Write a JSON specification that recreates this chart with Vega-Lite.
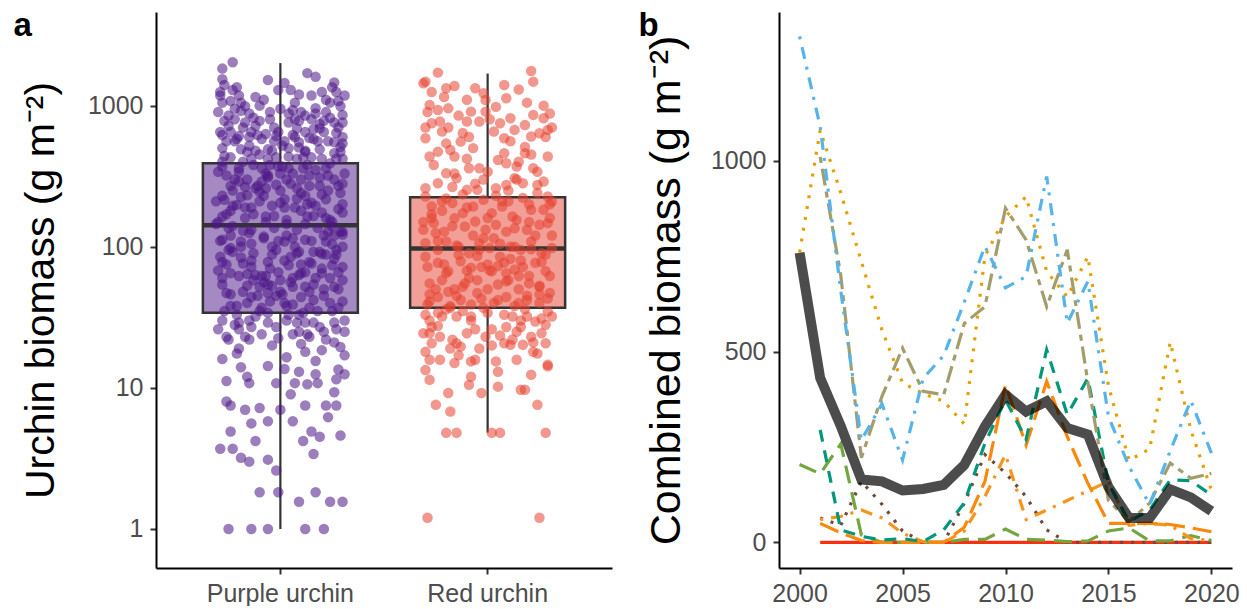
{
  "$schema": "https://vega.github.io/schema/vega-lite/v6.json",
  "padding": {"left": 13, "top": 10, "right": 0, "bottom": 0},
  "spacing": 26,
  "resolve": {"scale": {"color": "independent", "strokeDash": "independent", "fill": "independent"}},
  "config": {
    "view": {"stroke": null},
    "font": "Liberation Sans",
    "axis": {"domainColor": "#000000", "domainWidth": 2, "tickColor": "#333333", "tickWidth": 2, "tickSize": 6, "labelColor": "#4D4D4D", "labelFontSize": 25, "labelPadding": 7, "titleFontWeight": "normal", "titleColor": "#000000", "grid": false},
    "title": {"fontSize": 33, "fontWeight": "bold", "anchor": "start", "frame": "bounds", "offset": 0, "baseline": "alphabetic", "color": "#000000"}
  },
  "datasets": {
    "box": [
      {"g": "P", "lo": 1.0, "q1": 34.1, "med": 142, "q3": 390, "hi": 2003},
      {"g": "R", "lo": 4.82, "q1": 37.0, "med": 97.3, "q3": 224, "hi": 1687}
    ],
    "pts": [
      {"g":"P","j":-0.23,"v":2030},{"g":"P","j":-0.28,"v":1830},{"g":"P","j":-0.28,"v":1540},{"g":"P","j":-0.06,"v":1520},{"g":"P","j":0.17,"v":1600},{"g":"P","j":0.26,"v":1460},{"g":"P","j":0.25,"v":1350},{"g":"P","j":-0.01,"v":1290},{"g":"P","j":0.05,"v":1290},{"g":"P","j":-0.23,"v":1290},
      {"g":"P","j":-0.2,"v":1180},{"g":"P","j":-0.29,"v":1180},{"g":"P","j":0.15,"v":1180},{"g":"P","j":0.31,"v":1180},{"g":"P","j":0.28,"v":1080},{"g":"P","j":-0.28,"v":1050},{"g":"P","j":-0.24,"v":1080},{"g":"P","j":-0.19,"v":1050},{"g":"P","j":-0.15,"v":880},{"g":"P","j":-0.05,"v":900},
      {"g":"P","j":0,"v":950},{"g":"P","j":0.06,"v":930},{"g":"P","j":0.1,"v":900},{"g":"P","j":0.17,"v":960},{"g":"P","j":0.22,"v":900},{"g":"P","j":0.3,"v":860},{"g":"P","j":-0.27,"v":780},{"g":"P","j":-0.22,"v":800},{"g":"P","j":-0.17,"v":760},{"g":"P","j":-0.1,"v":780},
      {"g":"P","j":-0.05,"v":800},{"g":"P","j":0.04,"v":760},{"g":"P","j":0.09,"v":780},{"g":"P","j":0.15,"v":800},{"g":"P","j":0.19,"v":740},{"g":"P","j":0.26,"v":760},{"g":"P","j":0.3,"v":760},{"g":"P","j":-0.29,"v":650},{"g":"P","j":-0.24,"v":650},{"g":"P","j":-0.14,"v":650},
      {"g":"P","j":-0.07,"v":630},{"g":"P","j":-0.01,"v":650},{"g":"P","j":0.06,"v":620},{"g":"P","j":0.12,"v":650},{"g":"P","j":0.21,"v":650},{"g":"P","j":0.3,"v":600},{"g":"P","j":-0.21,"v":580},{"g":"P","j":-0.15,"v":600},{"g":"P","j":-0.09,"v":580},{"g":"P","j":0.02,"v":560},
      {"g":"P","j":0.09,"v":550},{"g":"P","j":0.16,"v":580},{"g":"P","j":0.23,"v":560},{"g":"P","j":0.29,"v":510},{"g":"P","j":-0.28,"v":500},{"g":"P","j":-0.19,"v":490},{"g":"P","j":-0.12,"v":480},{"g":"P","j":-0.06,"v":490},{"g":"P","j":0.04,"v":500},{"g":"P","j":0.12,"v":480},
      {"g":"P","j":0.19,"v":490},{"g":"P","j":0.26,"v":460},{"g":"P","j":-0.24,"v":430},{"g":"P","j":-0.14,"v":420},{"g":"P","j":-0.02,"v":430},{"g":"P","j":0.08,"v":420},{"g":"P","j":0.15,"v":430},{"g":"P","j":0.3,"v":420},{"g":"P","j":-0.28,"v":370},{"g":"P","j":-0.2,"v":360},
      {"g":"P","j":-0.09,"v":360},{"g":"P","j":0.01,"v":370},{"g":"P","j":0.11,"v":360},{"g":"P","j":0.22,"v":360},{"g":"P","j":-0.26,"v":320},{"g":"P","j":-0.16,"v":300},{"g":"P","j":-0.06,"v":310},{"g":"P","j":0.03,"v":300},{"g":"P","j":0.14,"v":320},{"g":"P","j":0.26,"v":300},
      {"g":"P","j":0.3,"v":280},{"g":"P","j":-0.24,"v":270},{"g":"P","j":-0.12,"v":260},{"g":"P","j":-0.02,"v":275},{"g":"P","j":0.08,"v":260},{"g":"P","j":0.19,"v":270},{"g":"P","j":0.29,"v":240},{"g":"P","j":-0.28,"v":230},{"g":"P","j":-0.19,"v":225},{"g":"P","j":-0.08,"v":230},
      {"g":"P","j":0.02,"v":217},{"g":"P","j":0.12,"v":230},{"g":"P","j":0.22,"v":217},{"g":"P","j":-0.23,"v":195},{"g":"P","j":-0.14,"v":190},{"g":"P","j":-0.04,"v":195},{"g":"P","j":0.07,"v":190},{"g":"P","j":0.17,"v":195},{"g":"P","j":0.28,"v":185},{"g":"P","j":-0.28,"v":164},
      {"g":"P","j":-0.17,"v":160},{"g":"P","j":-0.07,"v":164},{"g":"P","j":0.03,"v":155},{"g":"P","j":0.13,"v":164},{"g":"P","j":0.24,"v":155},{"g":"P","j":-0.25,"v":136},{"g":"P","j":-0.14,"v":132},{"g":"P","j":-0.03,"v":136},{"g":"P","j":0.08,"v":132},{"g":"P","j":0.18,"v":136},
      {"g":"P","j":0.29,"v":128},{"g":"P","j":-0.28,"v":112},{"g":"P","j":-0.19,"v":109},{"g":"P","j":-0.08,"v":115},{"g":"P","j":0.02,"v":109},{"g":"P","j":0.12,"v":112},{"g":"P","j":0.22,"v":109},{"g":"P","j":0.3,"v":100},{"g":"P","j":-0.23,"v":92},{"g":"P","j":-0.13,"v":90},
      {"g":"P","j":-0.02,"v":95},{"g":"P","j":0.08,"v":90},{"g":"P","j":0.19,"v":92},{"g":"P","j":0.27,"v":88},{"g":"P","j":-0.28,"v":78},{"g":"P","j":-0.18,"v":76},{"g":"P","j":-0.06,"v":78},{"g":"P","j":0.04,"v":74},{"g":"P","j":0.14,"v":78},{"g":"P","j":0.25,"v":74},
      {"g":"P","j":0.3,"v":72},{"g":"P","j":-0.24,"v":65},{"g":"P","j":-0.12,"v":63},{"g":"P","j":-0.01,"v":66},{"g":"P","j":0.09,"v":63},{"g":"P","j":0.2,"v":65},{"g":"P","j":-0.28,"v":54},{"g":"P","j":-0.16,"v":53},{"g":"P","j":-0.06,"v":54},{"g":"P","j":0.06,"v":52},
      {"g":"P","j":0.16,"v":54},{"g":"P","j":0.26,"v":52},{"g":"P","j":-0.24,"v":46},{"g":"P","j":-0.14,"v":44},{"g":"P","j":-0.02,"v":45},{"g":"P","j":0.1,"v":44},{"g":"P","j":0.21,"v":45},{"g":"P","j":0.3,"v":41},{"g":"P","j":-0.21,"v":38},{"g":"P","j":-0.09,"v":37},
      {"g":"P","j":0.03,"v":38},{"g":"P","j":0.14,"v":37},{"g":"P","j":0.25,"v":35},{"g":"P","j":-0.28,"v":30},{"g":"P","j":-0.2,"v":29},{"g":"P","j":-0.14,"v":27},{"g":"P","j":-0.06,"v":29},{"g":"P","j":0.03,"v":30},{"g":"P","j":0.12,"v":29},{"g":"P","j":0.19,"v":27},
      {"g":"P","j":0.26,"v":29},{"g":"P","j":0.31,"v":30},{"g":"P","j":-0.26,"v":23},{"g":"P","j":-0.15,"v":22},{"g":"P","j":-0.09,"v":24},{"g":"P","j":-0.01,"v":22.5},{"g":"P","j":0.06,"v":24},{"g":"P","j":0.14,"v":23},{"g":"P","j":0.22,"v":22},{"g":"P","j":0.29,"v":19.5},
      {"g":"P","j":-0.28,"v":16},{"g":"P","j":-0.21,"v":17.5},{"g":"P","j":0.03,"v":16.5},{"g":"P","j":0.12,"v":18},{"g":"P","j":0.2,"v":18.5},{"g":"P","j":0.31,"v":17},{"g":"P","j":-0.19,"v":14},{"g":"P","j":-0.06,"v":14.3},{"g":"P","j":0.02,"v":13.6},{"g":"P","j":0.09,"v":13},
      {"g":"P","j":0.17,"v":12.5},{"g":"P","j":0.27,"v":11.5},{"g":"P","j":-0.26,"v":11.2},{"g":"P","j":-0.15,"v":10.8},{"g":"P","j":-0.02,"v":10.8},{"g":"P","j":0.07,"v":10.8},{"g":"P","j":0.13,"v":10.6},{"g":"P","j":0.18,"v":10.8},{"g":"P","j":0.31,"v":12.5},{"g":"P","j":0.26,"v":9.3},
      {"g":"P","j":-0.24,"v":7.5},{"g":"P","j":-0.17,"v":7},{"g":"P","j":-0.1,"v":7.2},{"g":"P","j":0,"v":7},{"g":"P","j":0.06,"v":5.8},{"g":"P","j":0.12,"v":7.5},{"g":"P","j":0.22,"v":7.5},{"g":"P","j":0.27,"v":7.5},{"g":"P","j":-0.06,"v":5.8},{"g":"P","j":-0.14,"v":5.6},
      {"g":"P","j":-0.24,"v":4.9},{"g":"P","j":0.15,"v":4.9},{"g":"P","j":0.19,"v":4.5},{"g":"P","j":0.29,"v":4.6},{"g":"P","j":0.11,"v":4.2},{"g":"P","j":-0.29,"v":3.7},{"g":"P","j":-0.23,"v":3.7},{"g":"P","j":-0.19,"v":3.2},{"g":"P","j":-0.15,"v":3},{"g":"P","j":-0.06,"v":3.1},
      {"g":"P","j":-0.1,"v":1.82},{"g":"P","j":-0.01,"v":1.82},{"g":"P","j":0.09,"v":1.56},{"g":"P","j":0.17,"v":1.82},{"g":"P","j":0.24,"v":1.56},{"g":"P","j":0.3,"v":1.56},{"g":"P","j":-0.25,"v":1},{"g":"P","j":-0.14,"v":1},{"g":"P","j":-0.06,"v":1},{"g":"P","j":0.12,"v":1},{"g":"P","j":0.21,"v":1},
      {"g":"P","j":-0.3,"v":150},{"g":"P","j":-0.2,"v":340},{"g":"P","j":-0.1,"v":210},{"g":"P","j":0,"v":250},{"g":"P","j":0.1,"v":180},{"g":"P","j":0.2,"v":420},{"g":"P","j":0.3,"v":200},{"g":"P","j":-0.25,"v":95},{"g":"P","j":-0.15,"v":125},{"g":"P","j":-0.05,"v":70},
      {"g":"P","j":0.05,"v":85},{"g":"P","j":0.15,"v":110},{"g":"P","j":0.25,"v":140},{"g":"P","j":-0.28,"v":60},{"g":"P","j":-0.18,"v":48},{"g":"P","j":-0.08,"v":56},{"g":"P","j":0.02,"v":40},{"g":"P","j":0.12,"v":66},{"g":"P","j":0.22,"v":88},{"g":"P","j":0.28,"v":50},
      {"g":"P","j":-0.22,"v":560},{"g":"P","j":-0.12,"v":720},{"g":"P","j":-0.02,"v":610},{"g":"P","j":0.08,"v":690},{"g":"P","j":0.18,"v":560},{"g":"P","j":0.28,"v":700},{"g":"P","j":-0.27,"v":440},{"g":"P","j":-0.17,"v":265},{"g":"P","j":-0.07,"v":330},{"g":"P","j":0.03,"v":145},
      {"g":"P","j":0.13,"v":380},{"g":"P","j":0.23,"v":250},{"g":"P","j":-0.24,"v":180},{"g":"P","j":-0.14,"v":80},{"g":"P","j":-0.04,"v":100},{"g":"P","j":0.06,"v":60},{"g":"P","j":0.16,"v":42},{"g":"P","j":0.26,"v":120},{"g":"P","j":0.31,"v":330},{"g":"P","j":-0.31,"v":210},
      {"g":"P","j":-0.1,"v":1000},{"g":"P","j":0.12,"v":850},{"g":"P","j":-0.19,"v":920},{"g":"P","j":0.2,"v":1250},{"g":"P","j":0.09,"v":33},{"g":"P","j":-0.21,"v":33},{"g":"P","j":0.27,"v":26},{"g":"P","j":-0.04,"v":20},{"g":"P","j":0.17,"v":15.5},{"g":"P","j":-0.16,"v":12},
      {"g":"P","j":-0.3,"v":900},{"g":"P","j":-0.25,"v":720},{"g":"P","j":-0.2,"v":610},{"g":"P","j":-0.15,"v":520},{"g":"P","j":-0.1,"v":450},{"g":"P","j":-0.05,"v":380},{"g":"P","j":0,"v":330},{"g":"P","j":0.05,"v":280},{"g":"P","j":0.1,"v":240},{"g":"P","j":0.15,"v":205},
      {"g":"P","j":0.2,"v":175},{"g":"P","j":0.25,"v":150},{"g":"P","j":0.3,"v":128},{"g":"P","j":-0.29,"v":110},{"g":"P","j":-0.24,"v":98},{"g":"P","j":-0.19,"v":84},{"g":"P","j":-0.14,"v":72},{"g":"P","j":-0.09,"v":62},{"g":"P","j":-0.04,"v":53},{"g":"P","j":0.01,"v":46},
      {"g":"P","j":0.06,"v":39},{"g":"P","j":0.11,"v":34},{"g":"P","j":0.16,"v":29},{"g":"P","j":0.21,"v":25},{"g":"P","j":0.26,"v":21},{"g":"P","j":0.29,"v":990},{"g":"P","j":0.24,"v":820},{"g":"P","j":0.19,"v":690},{"g":"P","j":0.14,"v":590},{"g":"P","j":0.09,"v":505},
      {"g":"P","j":0.04,"v":435},{"g":"P","j":-0.01,"v":370},{"g":"P","j":-0.06,"v":320},{"g":"P","j":-0.11,"v":270},{"g":"P","j":-0.16,"v":232},{"g":"P","j":-0.21,"v":198},{"g":"P","j":-0.26,"v":170},{"g":"P","j":-0.31,"v":145},{"g":"P","j":0.3,"v":122},{"g":"P","j":0.25,"v":104},
      {"g":"P","j":0.2,"v":89},{"g":"P","j":0.15,"v":76},{"g":"P","j":0.1,"v":65},{"g":"P","j":0.05,"v":56},{"g":"P","j":0,"v":48},{"g":"P","j":-0.05,"v":41},{"g":"P","j":-0.1,"v":35},{"g":"P","j":-0.15,"v":30},{"g":"P","j":-0.2,"v":26},{"g":"P","j":-0.25,"v":22},
      {"g":"P","j":-0.27,"v":1400},{"g":"P","j":0.13,"v":1700},{"g":"P","j":0.22,"v":1100},{"g":"P","j":-0.12,"v":1150},{"g":"P","j":0.02,"v":1450},{"g":"P","j":0.27,"v":1250},{"g":"P","j":-0.17,"v":990},{"g":"P","j":0.07,"v":1050},
      {"g":"P","j":-0.22,"v":300},{"g":"P","j":-0.07,"v":260},{"g":"P","j":0.08,"v":220},{"g":"P","j":0.23,"v":320},{"g":"P","j":-0.28,"v":400},{"g":"P","j":0.17,"v":350},{"g":"P","j":-0.13,"v":380},{"g":"P","j":0.02,"v":190},{"g":"P","j":0.27,"v":420},{"g":"P","j":-0.03,"v":560},
      {"g":"P","j":0.12,"v":470},{"g":"P","j":-0.18,"v":700},{"g":"P","j":0.07,"v":800},{"g":"P","j":0.3,"v":540},{"g":"P","j":-0.23,"v":140},{"g":"P","j":-0.08,"v":118},{"g":"P","j":0.07,"v":100},{"g":"P","j":0.22,"v":160},{"g":"P","j":-0.18,"v":130},{"g":"P","j":0.12,"v":145},
      {"g":"P","j":-0.03,"v":165},{"g":"P","j":0.27,"v":95},{"g":"P","j":-0.29,"v":85},{"g":"P","j":0.02,"v":80},{"g":"P","j":-0.13,"v":58},{"g":"P","j":0.17,"v":60},{"g":"P","j":0.28,"v":66},{"g":"P","j":-0.24,"v":38},{"g":"P","j":0.09,"v":25},{"g":"P","j":-0.06,"v":34},
      {"g":"P","j":0.21,"v":50},{"g":"P","j":-0.11,"v":45},{"g":"P","j":-0.26,"v":8},{"g":"P","j":0.05,"v":9},{"g":"P","j":0.23,"v":6.2},{"g":"P","j":-0.12,"v":4.2},{"g":"P","j":0.16,"v":3.4},{"g":"P","j":-0.02,"v":2.6},{"g":"P","j":0.28,"v":13.5},{"g":"P","j":-0.2,"v":19},{"g":"P","j":0.1,"v":20.5},{"g":"P","j":-0.3,"v":26},
      {"g":"P","j":-0.29,"v":1250},{"g":"P","j":-0.22,"v":950},{"g":"P","j":-0.13,"v":820},{"g":"P","j":-0.03,"v":700},{"g":"P","j":0.07,"v":600},{"g":"P","j":0.17,"v":880},{"g":"P","j":0.27,"v":640},{"g":"P","j":-0.26,"v":560},{"g":"P","j":-0.16,"v":470},{"g":"P","j":-0.06,"v":420},
      {"g":"P","j":0.04,"v":360},{"g":"P","j":0.14,"v":270},{"g":"P","j":0.24,"v":390},{"g":"P","j":-0.3,"v":340},{"g":"P","j":-0.2,"v":290},{"g":"P","j":-0.1,"v":245},{"g":"P","j":0,"v":205},{"g":"P","j":0.1,"v":300},{"g":"P","j":0.2,"v":235},{"g":"P","j":0.3,"v":175},
      {"g":"P","j":-0.27,"v":215},{"g":"P","j":-0.17,"v":190},{"g":"P","j":-0.07,"v":150},{"g":"P","j":0.03,"v":120},{"g":"P","j":0.13,"v":200},{"g":"P","j":0.23,"v":128},{"g":"P","j":-0.24,"v":120},{"g":"P","j":-0.14,"v":105},{"g":"P","j":-0.04,"v":88},{"g":"P","j":0.06,"v":115},
      {"g":"P","j":0.16,"v":92},{"g":"P","j":0.26,"v":82},{"g":"P","j":-0.3,"v":68},{"g":"P","j":-0.2,"v":62},{"g":"P","j":-0.1,"v":52},{"g":"P","j":0,"v":58},{"g":"P","j":0.1,"v":75},{"g":"P","j":0.2,"v":70},{"g":"P","j":0.3,"v":58},{"g":"P","j":-0.26,"v":47},
      {"g":"P","j":-0.16,"v":40},{"g":"P","j":-0.06,"v":47},{"g":"P","j":0.04,"v":33},{"g":"P","j":0.14,"v":48},{"g":"P","j":0.24,"v":40},{"g":"P","j":-0.22,"v":28},{"g":"P","j":-0.12,"v":32},{"g":"P","j":-0.02,"v":27},{"g":"P","j":0.08,"v":29},{"g":"P","j":0.18,"v":35},
      {"g":"P","j":0.28,"v":37},{"g":"P","j":-0.27,"v":35},{"g":"P","j":0.31,"v":25},{"g":"P","j":-0.17,"v":23},{"g":"P","j":0.13,"v":24},{"g":"P","j":-0.21,"v":1350},{"g":"P","j":0.09,"v":1200},{"g":"P","j":-0.08,"v":1100},{"g":"P","j":0.24,"v":1050},{"g":"P","j":0.04,"v":880},
      {"g":"P","j":-0.25,"v":850},{"g":"P","j":0.21,"v":780},{"g":"P","j":-0.11,"v":620},{"g":"P","j":0.16,"v":680},{"g":"P","j":0.01,"v":520},{"g":"P","j":-0.28,"v":620},{"g":"P","j":0.26,"v":550},{"g":"P","j":-0.18,"v":400},{"g":"P","j":0.11,"v":430},{"g":"P","j":-0.04,"v":480},
      {"g":"P","j":0.29,"v":470},{"g":"P","j":-0.23,"v":250},{"g":"P","j":0.06,"v":330},{"g":"P","j":-0.09,"v":290},{"g":"P","j":0.19,"v":310},{"g":"P","j":0.28,"v":270},{"g":"P","j":-0.13,"v":170},{"g":"P","j":0.16,"v":165},{"g":"P","j":-0.01,"v":110},{"g":"P","j":0.21,"v":120},
      {"g":"P","j":-0.19,"v":100},{"g":"P","j":0.09,"v":92},{"g":"P","j":-0.26,"v":75},{"g":"P","j":0.24,"v":60},{"g":"P","j":-0.07,"v":62},{"g":"P","j":0.12,"v":52},{"g":"P","j":-0.16,"v":64},
      {"g":"R","j":-0.24,"v":1714},{"g":"R","j":0.21,"v":1762},{"g":"R","j":0.22,"v":1479},{"g":"R","j":-0.3,"v":1479},{"g":"R","j":-0.31,"v":1439},{"g":"R","j":-0.2,"v":1327},{"g":"R","j":-0.16,"v":1378},{"g":"R","j":-0.06,"v":1327},{"g":"R","j":0.08,"v":1402},{"g":"R","j":0.09,"v":1128},
      {"g":"R","j":-0.02,"v":1224},{"g":"R","j":-0.01,"v":1097},{"g":"R","j":-0.28,"v":1011},{"g":"R","j":-0.24,"v":932},{"g":"R","j":-0.19,"v":957},{"g":"R","j":-0.3,"v":587},{"g":"R","j":-0.27,"v":750},{"g":"R","j":-0.23,"v":771},{"g":"R","j":-0.22,"v":655},{"g":"R","j":-0.1,"v":771},
      {"g":"R","j":-0.08,"v":907},{"g":"R","j":-0.04,"v":771},{"g":"R","j":-0.01,"v":907},{"g":"R","j":0.11,"v":814},{"g":"R","j":0.13,"v":673},{"g":"R","j":0.18,"v":730},{"g":"R","j":0.22,"v":860},{"g":"R","j":0.27,"v":814},{"g":"R","j":0.29,"v":673},{"g":"R","j":0.03,"v":655},
      {"g":"R","j":0.08,"v":587},{"g":"R","j":0.21,"v":604},{"g":"R","j":0.25,"v":637},{"g":"R","j":-0.28,"v":436},{"g":"R","j":-0.24,"v":472},{"g":"R","j":-0.18,"v":485},{"g":"R","j":-0.16,"v":436},{"g":"R","j":-0.13,"v":556},{"g":"R","j":-0.09,"v":360},{"g":"R","j":-0.04,"v":360},
      {"g":"R","j":0.05,"v":412},{"g":"R","j":0.09,"v":391},{"g":"R","j":0.14,"v":370},{"g":"R","j":0.18,"v":460},{"g":"R","j":0.22,"v":360},{"g":"R","j":0.29,"v":436},{"g":"R","j":-0.24,"v":282},{"g":"R","j":-0.2,"v":332},{"g":"R","j":-0.15,"v":306},{"g":"R","j":-0.1,"v":253},
      {"g":"R","j":-0.05,"v":253},{"g":"R","j":0.04,"v":260},{"g":"R","j":0.09,"v":274},{"g":"R","j":0.13,"v":306},{"g":"R","j":0.17,"v":282},{"g":"R","j":0.24,"v":274},{"g":"R","j":0.27,"v":290},{"g":"R","j":0.29,"v":227},{"g":"R","j":-0.3,"v":227},{"g":"R","j":-0.27,"v":193},
      {"g":"R","j":-0.22,"v":209},{"g":"R","j":-0.17,"v":204},{"g":"R","j":-0.12,"v":173},{"g":"R","j":-0.07,"v":193},{"g":"R","j":-0.02,"v":215},{"g":"R","j":0.02,"v":173},{"g":"R","j":0.07,"v":193},{"g":"R","j":0.12,"v":164},{"g":"R","j":0.17,"v":222},{"g":"R","j":0.21,"v":183},
      {"g":"R","j":0.27,"v":183},{"g":"R","j":0.31,"v":209},{"g":"R","j":-0.31,"v":132},{"g":"R","j":-0.26,"v":147},{"g":"R","j":-0.21,"v":128},{"g":"R","j":-0.16,"v":159},{"g":"R","j":-0.11,"v":139},{"g":"R","j":-0.06,"v":151},{"g":"R","j":-0.01,"v":132},{"g":"R","j":0.04,"v":143},
      {"g":"R","j":0.09,"v":128},{"g":"R","j":0.14,"v":155},{"g":"R","j":0.19,"v":132},{"g":"R","j":0.25,"v":143},{"g":"R","j":0.29,"v":147},{"g":"R","j":-0.3,"v":106},{"g":"R","j":-0.24,"v":95},{"g":"R","j":-0.2,"v":109},{"g":"R","j":-0.14,"v":100},{"g":"R","j":-0.09,"v":90},
      {"g":"R","j":-0.04,"v":106},{"g":"R","j":0.01,"v":98},{"g":"R","j":0.06,"v":85},{"g":"R","j":0.11,"v":100},{"g":"R","j":0.16,"v":95},{"g":"R","j":0.21,"v":109},{"g":"R","j":0.26,"v":90},{"g":"R","j":0.31,"v":98},{"g":"R","j":-0.29,"v":72},{"g":"R","j":-0.24,"v":77},
      {"g":"R","j":-0.19,"v":67},{"g":"R","j":-0.13,"v":79},{"g":"R","j":-0.08,"v":71},{"g":"R","j":-0.03,"v":72},{"g":"R","j":0.02,"v":67},{"g":"R","j":0.08,"v":77},{"g":"R","j":0.13,"v":69},{"g":"R","j":0.17,"v":72},{"g":"R","j":0.23,"v":77},{"g":"R","j":0.28,"v":67},
      {"g":"R","j":-0.28,"v":55},{"g":"R","j":-0.22,"v":58},{"g":"R","j":-0.16,"v":50},{"g":"R","j":-0.11,"v":55},{"g":"R","j":-0.05,"v":58},{"g":"R","j":0,"v":50},{"g":"R","j":0.05,"v":54},{"g":"R","j":0.09,"v":57},{"g":"R","j":0.15,"v":50},{"g":"R","j":0.2,"v":55},
      {"g":"R","j":0.25,"v":52},{"g":"R","j":0.3,"v":47},{"g":"R","j":-0.28,"v":41},{"g":"R","j":-0.24,"v":44},{"g":"R","j":-0.18,"v":38},{"g":"R","j":-0.13,"v":42},{"g":"R","j":-0.08,"v":39},{"g":"R","j":-0.03,"v":43},{"g":"R","j":0.03,"v":40},{"g":"R","j":0.09,"v":44},
      {"g":"R","j":0.13,"v":38},{"g":"R","j":0.19,"v":42},{"g":"R","j":0.25,"v":40},{"g":"R","j":0.29,"v":43},{"g":"R","j":-0.3,"v":33},{"g":"R","j":-0.28,"v":30},{"g":"R","j":-0.24,"v":34},{"g":"R","j":-0.2,"v":36},{"g":"R","j":-0.15,"v":32},{"g":"R","j":-0.08,"v":32},
      {"g":"R","j":0,"v":34},{"g":"R","j":0.09,"v":27},{"g":"R","j":0.12,"v":32},{"g":"R","j":0.16,"v":30},{"g":"R","j":0.19,"v":32},{"g":"R","j":0.23,"v":29.5},{"g":"R","j":0.29,"v":34.8},{"g":"R","j":0.31,"v":32},{"g":"R","j":-0.31,"v":24.4},{"g":"R","j":-0.28,"v":24.4},
      {"g":"R","j":-0.27,"v":20.7},{"g":"R","j":-0.23,"v":23},{"g":"R","j":-0.17,"v":21.9},{"g":"R","j":-0.15,"v":20.7},{"g":"R","j":-0.13,"v":19.6},{"g":"R","j":-0.1,"v":24.4},{"g":"R","j":-0.08,"v":15.4},{"g":"R","j":-0.06,"v":15.8},{"g":"R","j":-0.01,"v":23},{"g":"R","j":0.04,"v":15.4},
      {"g":"R","j":0.08,"v":20.7},{"g":"R","j":0.11,"v":20.2},{"g":"R","j":0.14,"v":15.8},{"g":"R","j":0.17,"v":20.2},{"g":"R","j":0.21,"v":23},{"g":"R","j":0.26,"v":24.4},{"g":"R","j":0.28,"v":20.7},{"g":"R","j":0.29,"v":14.6},{"g":"R","j":-0.28,"v":15.8},{"g":"R","j":-0.23,"v":15.8},
      {"g":"R","j":-0.16,"v":15},{"g":"R","j":-0.3,"v":13.4},{"g":"R","j":-0.28,"v":11.4},{"g":"R","j":-0.19,"v":9.2},{"g":"R","j":-0.25,"v":7.6},{"g":"R","j":-0.18,"v":6.8},{"g":"R","j":-0.09,"v":10.5},{"g":"R","j":-0.03,"v":9.2},{"g":"R","j":0.05,"v":10.2},{"g":"R","j":0.16,"v":9.7},
      {"g":"R","j":0.18,"v":9.7},{"g":"R","j":0.21,"v":12.4},{"g":"R","j":0.24,"v":7.6},{"g":"R","j":0.29,"v":14.2},{"g":"R","j":-0.2,"v":4.8},{"g":"R","j":-0.15,"v":4.8},{"g":"R","j":0.02,"v":4.8},{"g":"R","j":0.06,"v":4.8},{"g":"R","j":0.28,"v":4.8},{"g":"R","j":-0.29,"v":1.2},{"g":"R","j":0.25,"v":1.2},
      {"g":"R","j":-0.3,"v":700},{"g":"R","j":-0.2,"v":540},{"g":"R","j":-0.1,"v":420},{"g":"R","j":0,"v":340},{"g":"R","j":0.1,"v":250},{"g":"R","j":0.2,"v":200},{"g":"R","j":0.3,"v":160},{"g":"R","j":-0.25,"v":125},{"g":"R","j":-0.15,"v":102},{"g":"R","j":-0.05,"v":86},
      {"g":"R","j":0.05,"v":73},{"g":"R","j":0.15,"v":62},{"g":"R","j":0.25,"v":53},{"g":"R","j":-0.28,"v":46},{"g":"R","j":-0.18,"v":37},{"g":"R","j":-0.08,"v":30},{"g":"R","j":0.02,"v":26},{"g":"R","j":0.12,"v":22},{"g":"R","j":0.22,"v":18},{"g":"R","j":0.28,"v":600},
      {"g":"R","j":0.18,"v":510},{"g":"R","j":0.08,"v":460},{"g":"R","j":-0.02,"v":300},{"g":"R","j":-0.12,"v":235},{"g":"R","j":-0.22,"v":180},{"g":"R","j":-0.31,"v":150},{"g":"R","j":0.31,"v":120},{"g":"R","j":0.21,"v":96},{"g":"R","j":0.11,"v":82},{"g":"R","j":0.01,"v":68},
      {"g":"R","j":-0.09,"v":60},{"g":"R","j":-0.19,"v":48},{"g":"R","j":-0.29,"v":39},{"g":"R","j":0.26,"v":31},{"g":"R","j":0.16,"v":27},{"g":"R","j":0.06,"v":23.5},{"g":"R","j":-0.04,"v":19},{"g":"R","j":-0.14,"v":17},{"g":"R","j":-0.24,"v":27.5},{"g":"R","j":-0.27,"v":1250},
      {"g":"R","j":0.04,"v":980},{"g":"R","j":0.19,"v":1050},{"g":"R","j":0.3,"v":880},{"g":"R","j":-0.12,"v":640},{"g":"R","j":0.15,"v":400},{"g":"R","j":-0.07,"v":500},{"g":"R","j":0.24,"v":340},{"g":"R","j":-0.17,"v":265},{"g":"R","j":0.07,"v":210},{"g":"R","j":-0.27,"v":160},
      {"g":"R","j":0.13,"v":135},{"g":"R","j":-0.02,"v":115},{"g":"R","j":0.28,"v":88},{"g":"R","j":-0.21,"v":75},{"g":"R","j":0.09,"v":65},{"g":"R","j":-0.12,"v":52},{"g":"R","j":0.19,"v":45},{"g":"R","j":-0.3,"v":18},{"g":"R","j":0.05,"v":13},{"g":"R","j":-0.08,"v":12},{"g":"R","j":0.24,"v":17.5},
      {"g":"R","j":-0.29,"v":900},{"g":"R","j":-0.19,"v":700},{"g":"R","j":-0.09,"v":600},{"g":"R","j":0.01,"v":800},{"g":"R","j":0.11,"v":560},{"g":"R","j":0.21,"v":450},{"g":"R","j":0.31,"v":700},{"g":"R","j":-0.26,"v":380},{"g":"R","j":-0.16,"v":330},{"g":"R","j":-0.06,"v":280},
      {"g":"R","j":0.04,"v":230},{"g":"R","j":0.14,"v":300},{"g":"R","j":0.24,"v":240},{"g":"R","j":-0.3,"v":260},{"g":"R","j":-0.2,"v":220},{"g":"R","j":-0.1,"v":190},{"g":"R","j":0,"v":160},{"g":"R","j":0.1,"v":210},{"g":"R","j":0.2,"v":150},{"g":"R","j":0.3,"v":200},
      {"g":"R","j":-0.27,"v":170},{"g":"R","j":-0.17,"v":140},{"g":"R","j":-0.07,"v":120},{"g":"R","j":0.03,"v":115},{"g":"R","j":0.13,"v":100},{"g":"R","j":0.23,"v":120},{"g":"R","j":-0.24,"v":110},{"g":"R","j":-0.14,"v":88},{"g":"R","j":-0.04,"v":95},{"g":"R","j":0.06,"v":105},
      {"g":"R","j":0.16,"v":80},{"g":"R","j":0.26,"v":78},{"g":"R","j":-0.3,"v":85},{"g":"R","j":-0.2,"v":65},{"g":"R","j":-0.1,"v":68},{"g":"R","j":0,"v":75},{"g":"R","j":0.1,"v":58},{"g":"R","j":0.2,"v":62},{"g":"R","j":0.3,"v":62},{"g":"R","j":-0.25,"v":50},
      {"g":"R","j":-0.15,"v":45},{"g":"R","j":-0.05,"v":47},{"g":"R","j":0.05,"v":42},{"g":"R","j":0.15,"v":40},{"g":"R","j":0.25,"v":46},{"g":"R","j":-0.22,"v":32},{"g":"R","j":-0.12,"v":35},{"g":"R","j":-0.02,"v":37},{"g":"R","j":0.08,"v":33},{"g":"R","j":0.18,"v":36},
      {"g":"R","j":0.28,"v":28},{"g":"R","j":-0.27,"v":27},{"g":"R","j":0.14,"v":25},{"g":"R","j":-0.06,"v":26},{"g":"R","j":0.22,"v":21},{"g":"R","j":-0.18,"v":19},{"g":"R","j":0.02,"v":20},{"g":"R","j":-0.1,"v":1100},{"g":"R","j":0.15,"v":1300},{"g":"R","j":-0.21,"v":1150},
      {"g":"R","j":0.27,"v":1000},{"g":"R","j":0.06,"v":750},{"g":"R","j":-0.14,"v":850}
    ],
    "lines": [
      {"site":"red","year":2001,"value":0},{"site":"red","year":2002,"value":0},{"site":"red","year":2003,"value":0},{"site":"red","year":2004,"value":0},{"site":"red","year":2005,"value":0},{"site":"red","year":2006,"value":0},{"site":"red","year":2007,"value":0},{"site":"red","year":2008,"value":0},{"site":"red","year":2009,"value":0},{"site":"red","year":2010,"value":0},{"site":"red","year":2011,"value":0},{"site":"red","year":2012,"value":0},{"site":"red","year":2013,"value":0},{"site":"red","year":2014,"value":0},{"site":"red","year":2015,"value":0},{"site":"red","year":2016,"value":0},{"site":"red","year":2017,"value":0},{"site":"red","year":2018,"value":0},{"site":"red","year":2019,"value":0},{"site":"red","year":2020,"value":0},
      {"site":"brown","year":2001,"value":64},{"site":"brown","year":2002,"value":45},{"site":"brown","year":2003,"value":160},{"site":"brown","year":2004,"value":100},{"site":"brown","year":2005,"value":30},{"site":"brown","year":2006,"value":0},{"site":"brown","year":2007,"value":0},{"site":"brown","year":2008,"value":103},{"site":"brown","year":2009,"value":230},{"site":"brown","year":2010,"value":182},{"site":"brown","year":2011,"value":120},{"site":"brown","year":2012,"value":33},{"site":"brown","year":2013,"value":0},{"site":"brown","year":2014,"value":0},{"site":"brown","year":2015,"value":0},{"site":"brown","year":2016,"value":0},{"site":"brown","year":2017,"value":0},{"site":"brown","year":2018,"value":0},{"site":"brown","year":2019,"value":0},{"site":"brown","year":2020,"value":0},
      {"site":"olive","year":2000,"value":204},{"site":"olive","year":2001,"value":180},{"site":"olive","year":2002,"value":258},{"site":"olive","year":2003,"value":20},{"site":"olive","year":2004,"value":0},{"site":"olive","year":2005,"value":0},{"site":"olive","year":2006,"value":0},{"site":"olive","year":2007,"value":0},{"site":"olive","year":2008,"value":8},{"site":"olive","year":2009,"value":8},{"site":"olive","year":2010,"value":35},{"site":"olive","year":2011,"value":8},{"site":"olive","year":2012,"value":6},{"site":"olive","year":2013,"value":2},{"site":"olive","year":2014,"value":4},{"site":"olive","year":2015,"value":30},{"site":"olive","year":2016,"value":38},{"site":"olive","year":2017,"value":4},{"site":"olive","year":2018,"value":4},{"site":"olive","year":2019,"value":18},{"site":"olive","year":2020,"value":5},
      {"site":"orangeB","year":2001,"value":60},{"site":"orangeB","year":2002,"value":68},{"site":"orangeB","year":2003,"value":85},{"site":"orangeB","year":2004,"value":64},{"site":"orangeB","year":2005,"value":24},{"site":"orangeB","year":2006,"value":2},{"site":"orangeB","year":2007,"value":0},{"site":"orangeB","year":2008,"value":30},{"site":"orangeB","year":2009,"value":120},{"site":"orangeB","year":2010,"value":230},{"site":"orangeB","year":2011,"value":60},{"site":"orangeB","year":2012,"value":85},{"site":"orangeB","year":2013,"value":110},{"site":"orangeB","year":2014,"value":135},{"site":"orangeB","year":2015,"value":160},{"site":"orangeB","year":2016,"value":45},{"site":"orangeB","year":2017,"value":50},{"site":"orangeB","year":2018,"value":45},{"site":"orangeB","year":2019,"value":10},{"site":"orangeB","year":2020,"value":5},
      {"site":"orangeA","year":2001,"value":50},{"site":"orangeA","year":2002,"value":25},{"site":"orangeA","year":2003,"value":5},{"site":"orangeA","year":2004,"value":0},{"site":"orangeA","year":2005,"value":0},{"site":"orangeA","year":2006,"value":0},{"site":"orangeA","year":2007,"value":0},{"site":"orangeA","year":2008,"value":40},{"site":"orangeA","year":2009,"value":160},{"site":"orangeA","year":2010,"value":413},{"site":"orangeA","year":2011,"value":255},{"site":"orangeA","year":2012,"value":422},{"site":"orangeA","year":2013,"value":277},{"site":"orangeA","year":2014,"value":155},{"site":"orangeA","year":2015,"value":50},{"site":"orangeA","year":2016,"value":50},{"site":"orangeA","year":2017,"value":50},{"site":"orangeA","year":2018,"value":47},{"site":"orangeA","year":2019,"value":38},{"site":"orangeA","year":2020,"value":28},
      {"site":"teal","year":2001,"value":295},{"site":"teal","year":2002,"value":33},{"site":"teal","year":2003,"value":16},{"site":"teal","year":2004,"value":6},{"site":"teal","year":2005,"value":10},{"site":"teal","year":2006,"value":2},{"site":"teal","year":2007,"value":33},{"site":"teal","year":2008,"value":104},{"site":"teal","year":2009,"value":260},{"site":"teal","year":2010,"value":374},{"site":"teal","year":2011,"value":270},{"site":"teal","year":2012,"value":505},{"site":"teal","year":2013,"value":335},{"site":"teal","year":2014,"value":430},{"site":"teal","year":2015,"value":155},{"site":"teal","year":2016,"value":55},{"site":"teal","year":2017,"value":85},{"site":"teal","year":2018,"value":164},{"site":"teal","year":2019,"value":162},{"site":"teal","year":2020,"value":124},
      {"site":"khaki","year":2001,"value":1010},{"site":"khaki","year":2002,"value":700},{"site":"khaki","year":2003,"value":222},{"site":"khaki","year":2004,"value":383},{"site":"khaki","year":2005,"value":509},{"site":"khaki","year":2006,"value":396},{"site":"khaki","year":2007,"value":387},{"site":"khaki","year":2008,"value":574},{"site":"khaki","year":2009,"value":618},{"site":"khaki","year":2010,"value":876},{"site":"khaki","year":2011,"value":793},{"site":"khaki","year":2012,"value":618},{"site":"khaki","year":2013,"value":767},{"site":"khaki","year":2014,"value":420},{"site":"khaki","year":2015,"value":110},{"site":"khaki","year":2016,"value":55},{"site":"khaki","year":2017,"value":103},{"site":"khaki","year":2018,"value":208},{"site":"khaki","year":2019,"value":168},{"site":"khaki","year":2020,"value":181},
      {"site":"gold","year":2000,"value":760},{"site":"gold","year":2001,"value":1080},{"site":"gold","year":2002,"value":916},{"site":"gold","year":2003,"value":736},{"site":"gold","year":2004,"value":557},{"site":"gold","year":2005,"value":418},{"site":"gold","year":2006,"value":390},{"site":"gold","year":2007,"value":370},{"site":"gold","year":2008,"value":310},{"site":"gold","year":2009,"value":750},{"site":"gold","year":2010,"value":854},{"site":"gold","year":2011,"value":906},{"site":"gold","year":2012,"value":710},{"site":"gold","year":2013,"value":644},{"site":"gold","year":2014,"value":749},{"site":"gold","year":2015,"value":410},{"site":"gold","year":2016,"value":215},{"site":"gold","year":2017,"value":245},{"site":"gold","year":2018,"value":525},{"site":"gold","year":2019,"value":295},{"site":"gold","year":2020,"value":137},
      {"site":"blue","year":2000,"value":1326},{"site":"blue","year":2001,"value":1090},{"site":"blue","year":2002,"value":660},{"site":"blue","year":2003,"value":268},{"site":"blue","year":2004,"value":363},{"site":"blue","year":2005,"value":216},{"site":"blue","year":2006,"value":430},{"site":"blue","year":2007,"value":490},{"site":"blue","year":2008,"value":630},{"site":"blue","year":2009,"value":776},{"site":"blue","year":2010,"value":667},{"site":"blue","year":2011,"value":697},{"site":"blue","year":2012,"value":959},{"site":"blue","year":2013,"value":575},{"site":"blue","year":2014,"value":684},{"site":"blue","year":2015,"value":330},{"site":"blue","year":2016,"value":199},{"site":"blue","year":2017,"value":99},{"site":"blue","year":2018,"value":240},{"site":"blue","year":2019,"value":372},{"site":"blue","year":2020,"value":234}
    ],
    "mean": [
      {"year":2000,"value":759},{"year":2001,"value":431},{"year":2002,"value":305},{"year":2003,"value":165},{"year":2004,"value":160},{"year":2005,"value":136},{"year":2006,"value":140},{"year":2007,"value":151},{"year":2008,"value":203},{"year":2009,"value":304},{"year":2010,"value":387},{"year":2011,"value":343},{"year":2012,"value":370},{"year":2013,"value":300},{"year":2014,"value":283},{"year":2015,"value":145},{"year":2016,"value":64},{"year":2017,"value":64},{"year":2018,"value":139},{"year":2019,"value":118},{"year":2020,"value":82}
    ]
  },
  "hconcat": [
    {
      "width": 456,
      "height": 556,
      "title": {"text": "a", "dx": -7, "dy": 35},
      "resolve": {"scale": {"color": "independent", "fill": "independent"}},
      "layer": [
        {
          "data": {"name": "box"},
          "mark": {"type": "rule", "color": "#333333", "strokeWidth": 2.2},
          "encoding": {
            "x": {"field": "g", "type": "nominal", "scale": {"domain": ["P", "R"], "paddingInner": 0, "paddingOuter": 0.1}, "axis": {"title": null, "labelAngle": 0, "labelExpr": "datum.value == 'P' ? 'Purple urchin' : 'Red urchin'"}},
            "y": {"field": "lo", "type": "quantitative", "scale": {"type": "log", "domain": [0.529, 4609], "nice": false, "zero": false}, "axis": {"values": [1, 10, 100, 1000], "format": "d", "title": "Urchin biomass (g m⁻²)", "titleFontSize": 41, "titlePadding": 25}},
            "y2": {"field": "q1"}
          }
        },
        {
          "data": {"name": "box"},
          "mark": {"type": "rule", "color": "#333333", "strokeWidth": 2.2},
          "encoding": {
            "x": {"field": "g", "type": "nominal"},
            "y": {"field": "q3", "type": "quantitative"},
            "y2": {"field": "hi"}
          }
        },
        {
          "data": {"name": "box"},
          "mark": {"type": "bar", "width": 155, "fillOpacity": 0.5, "stroke": "#333333", "strokeWidth": 2.5},
          "encoding": {
            "x": {"field": "g", "type": "nominal"},
            "y": {"field": "q1", "type": "quantitative"},
            "y2": {"field": "q3"},
            "fill": {"field": "g", "type": "nominal", "scale": {"domain": ["P", "R"], "range": ["#4A1486", "#E6412F"]}, "legend": null}
          }
        },
        {
          "data": {"name": "box"},
          "mark": {"type": "tick", "color": "#333333", "size": 155, "thickness": 4.5, "opacity": 1},
          "encoding": {
            "x": {"field": "g", "type": "nominal"},
            "y": {"field": "med", "type": "quantitative"}
          }
        },
        {
          "data": {"name": "pts"},
          "mark": {"type": "circle", "size": 110, "opacity": 0.55},
          "encoding": {
            "x": {"field": "g", "type": "nominal"},
            "xOffset": {"field": "j", "type": "quantitative", "scale": {"domain": [-0.5, 0.5]}},
            "y": {"field": "v", "type": "quantitative"},
            "color": {"field": "g", "type": "nominal", "scale": {"domain": ["P", "R"], "range": ["#4A1486", "#E6412F"]}, "legend": null}
          }
        }
      ]
    },
    {
      "width": 453,
      "height": 556,
      "title": {"text": "b", "dx": -7, "dy": 35},
      "layer": [
        {
          "data": {"name": "lines"},
          "mark": {"type": "line", "strokeWidth": 3.2},
          "encoding": {
            "x": {"field": "year", "type": "quantitative", "scale": {"domain": [1999, 2021], "nice": false, "zero": false}, "axis": {"values": [2000, 2005, 2010, 2015, 2020], "format": "d", "title": null}},
            "y": {"field": "value", "type": "quantitative", "scale": {"domain": [-67, 1390], "nice": false, "zero": false}, "axis": {"values": [0, 500, 1000], "format": "d", "title": "Combined biomass (g m⁻²)", "titleFontSize": 43, "titlePadding": 22}},
            "color": {"field": "site", "type": "nominal", "scale": {"domain": ["red", "brown", "olive", "orangeB", "orangeA", "teal", "khaki", "gold", "blue"], "range": ["#F83010", "#6E4A3E", "#72A63F", "#F7941D", "#F8890C", "#00977A", "#A39D6C", "#E69F00", "#56B4E9"]}, "legend": null},
            "strokeDash": {"field": "site", "type": "nominal", "scale": {"domain": ["red", "brown", "olive", "orangeB", "orangeA", "teal", "khaki", "gold", "blue"], "range": [[1, 0], [3, 8], [18, 9], [3, 8, 12, 8], [20, 8], [12, 9], [6, 6, 17, 6], [3, 8], [3, 8, 12, 8]]}, "legend": null}
          }
        },
        {
          "data": {"name": "mean"},
          "mark": {"type": "line", "color": "#000000", "opacity": 0.7, "strokeWidth": 10},
          "encoding": {
            "x": {"field": "year", "type": "quantitative"},
            "y": {"field": "value", "type": "quantitative"}
          }
        }
      ]
    }
  ]
}
